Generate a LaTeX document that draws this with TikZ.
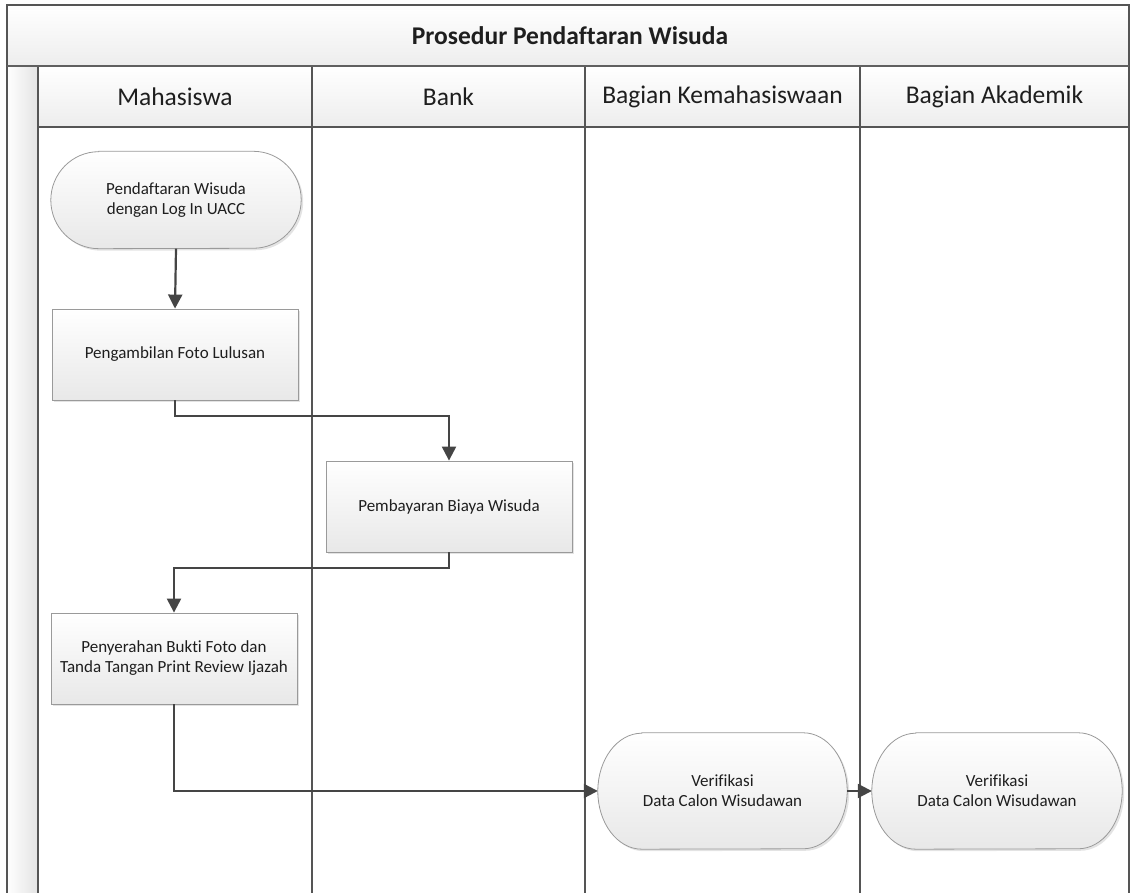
\documentclass[tikz,border=0pt]{standalone}
\usepackage{fontspec}
\setmainfont[Ligatures=NoCommon]{Carlito}
\usetikzlibrary{arrows.meta,shadows}
\pgfdeclarelayer{background}
\pgfsetlayers{background,main}
\definecolor{lineC}{HTML}{454545}
\definecolor{frameC}{HTML}{555555}
\definecolor{nodeB}{HTML}{9A9A9A}
\definecolor{txt}{HTML}{1E1E1E}
\tikzset{
  lane/.style={draw=frameC, line width=1.2pt},
  procbox/.style={draw=nodeB, line width=0.8pt, top color=white, bottom color=gray!18,
    minimum width=246pt, minimum height=91pt, inner sep=0pt, align=center,
    font=\fontsize{17}{20}\selectfont, text=txt,
    drop shadow={shadow xshift=2pt, shadow yshift=-2pt, opacity=0.22}},
  termtext/.style={draw=none, inner sep=0pt, align=center,
    font=\fontsize{17}{20}\selectfont, text=txt},
  termshape/.style={draw=nodeB, line width=0.8pt, top color=white, bottom color=gray!18,
    drop shadow={shadow xshift=2pt, shadow yshift=-2pt, opacity=0.22}},
  flow/.style={draw=lineC, line width=2.2pt, -{Triangle[length=14pt,width=14pt]}},
  headtext/.style={font=\fontsize{25.5}{30}\selectfont, text=txt},
}
\newcommand\termpath[3]{%
  \path[termshape] ([xshift=#2]#1.north west) -- ([xshift=-#2]#1.north east)
    arc[start angle=90, end angle=-90, x radius=#2, y radius=#3]
    -- ([xshift=#2]#1.south west)
    arc[start angle=270, end angle=90, x radius=#2, y radius=#3] -- cycle;}
\begin{document}
\begin{tikzpicture}[x=1pt,y=1pt]
\useasboundingbox (0,0) rectangle (1130,893);
% bands
\shade[top color=white, bottom color=gray!14] (7,827) rectangle (1129,888);
\shade[top color=white, bottom color=gray!14] (38,766) rectangle (1129,827);
\shade[left color=white, right color=gray!22] (7,0) rectangle (38,827);
% lines
\draw[lane] (7,0) -- (7,888) -- (1129,888) -- (1129,0);
\draw[lane] (38,0) -- (38,827);
\draw[lane] (38,766) -- (1129,766);
\draw[lane] (312,0) -- (312,827);
\draw[lane] (585,0) -- (585,827);
\draw[lane] (860,0) -- (860,827);
\draw[draw=gray!75!black, line width=2.2pt] (7,827) -- (1129,827);
% texts
\node[font=\fontsize{25.5}{30}\selectfont\bfseries, text=txt] (title) at (570,857.5) {Prosedur Pendaftaran Wisuda};
\node[headtext] (h1) at (175,796.5) {Mahasiswa};
\node[headtext] (h2) at (448.5,796.5) {Bank};
\node[headtext] (h3) at (722.5,796.5) {Bagian Kemahasiswaan};
\node[headtext] (h4) at (994.5,796.5) {Bagian Akademik};
% nodes
\node[termtext, minimum width=250pt, minimum height=97pt] (start) at (176,693) {Pendaftaran Wisuda\\dengan Log In UACC};
\node[procbox] (foto) at (175,538.5) {Pengambilan Foto Lulusan};
\node[procbox] (bayar) at (449,386.5) {Pembayaran Biaya Wisuda};
\node[procbox] (serah) at (174,234.5) {Penyerahan Bukti Foto dan\\Tanda Tangan Print Review Ijazah};
\node[termtext, minimum width=249pt, minimum height=116pt] (verif1) at (722.5,102) {Verifikasi\\Data Calon Wisudawan};
\node[termtext, minimum width=250pt, minimum height=116pt] (verif2) at (997,102) {Verifikasi\\Data Calon Wisudawan};
\begin{pgfonlayer}{background}
\termpath{start}{48}{48.5}
\termpath{verif1}{44}{58}
\termpath{verif2}{44}{58}
\end{pgfonlayer}
% connectors
\draw[flow] (start.south) -- (foto.north);
\draw[flow] (foto.south) -- ++(0,-16) -| (bayar.north);
\draw[flow] (bayar.south) -- ++(0,-16) -| (serah.north);
\draw[flow] (serah.south) |- (verif1.west);
\draw[flow] (verif1.east) -- (verif2.west);
\end{tikzpicture}
\end{document}
